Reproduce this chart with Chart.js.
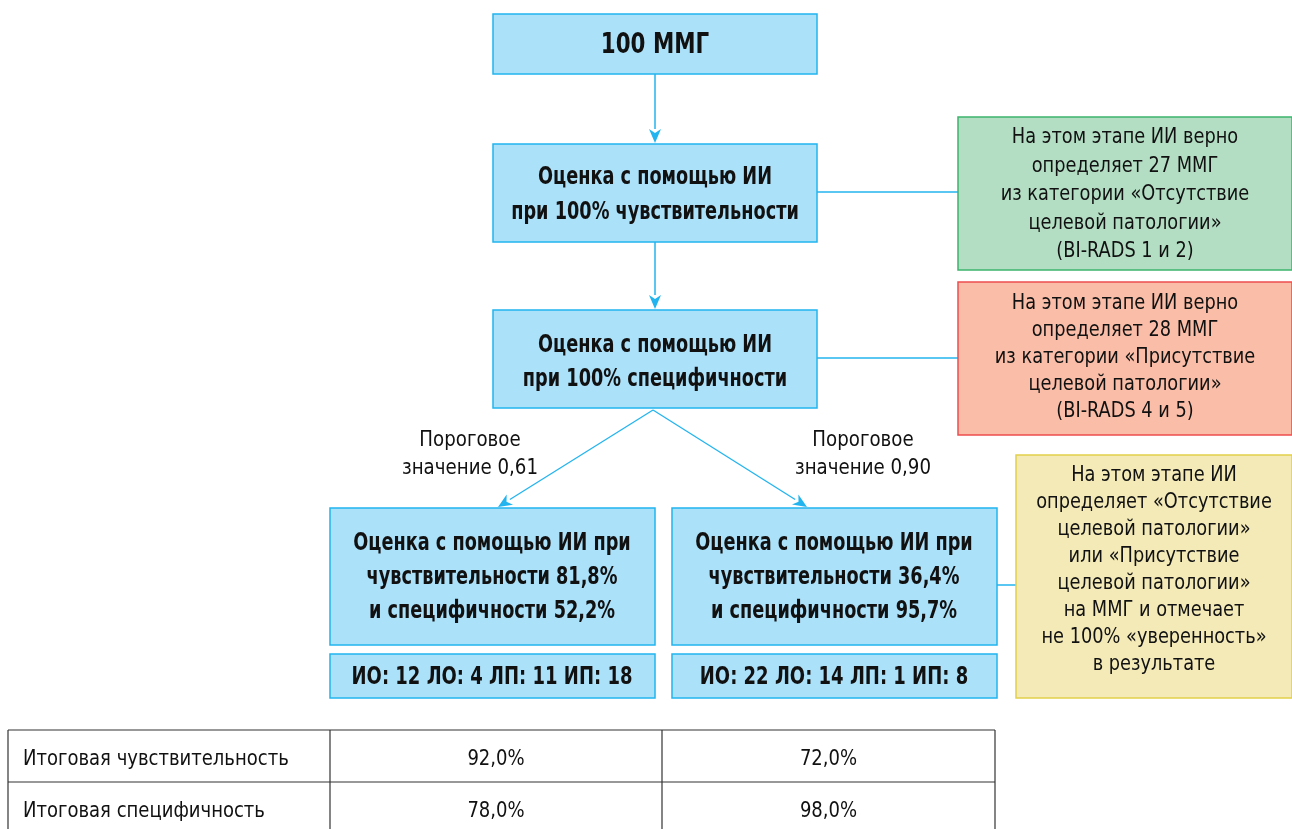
<!DOCTYPE html>
<html>
<head>
<meta charset="utf-8">
<script src="https://cdn.jsdelivr.net/npm/chart.js@4"></script>
<style>
  html, body { margin: 0; padding: 0; background: #fff; }
  #wrap { width: 1292px; height: 829px; position: relative; }
</style>
</head>
<body>
<div id="wrap"><canvas id="chart"></canvas></div>
<script>
// data
const totalMMG = 100;
const correctNegative = 27;
const correctPositive = 28;
const thresholds = ["0,61", "0,90"];
const branchSens = ["81,8%", "36,4%"];
const branchSpec = ["52,2%", "95,7%"];
const io = [12, 22];
const lo = [4, 14];
const lp = [11, 1];
const ip = [18, 8];
const finalLabels = ["Итоговая чувствительность", "Итоговая специфичность"];
const finalSens = ["92,0%", "72,0%"];
const finalSpec = ["78,0%", "98,0%"];

const FONT = "'DejaVu Sans Condensed', 'DejaVu Sans', sans-serif";
const BLUE_FILL = "#ace1fa";
const BLUE_LINE = "#22b4ee";

// layout of the boxes (x1, y1, x2, y2 in scale units)
const layout = {
  top: [493, 14, 817, 74],
  sens: [493, 144, 817, 242],
  spec: [493, 310, 817, 408],
  left: [330, 508, 655, 645],
  right: [672, 508, 997, 645],
  leftInfo: [330, 654, 655, 698],
  rightInfo: [672, 654, 997, 698],
  green: [958, 117, 1292, 270],
  red: [958, 282, 1292, 435],
  yellow: [1016, 455, 1292, 698]
};

const flowPlugin = {
  id: "flow",
  afterDraw(chart) {
    const ctx = chart.ctx;
    const sx = chart.scales.x, sy = chart.scales.y;
    const px = v => sx.getPixelForValue(v);
    const py = v => sy.getPixelForValue(v);

    // text squeezed horizontally to mimic the narrow font of the original
    function text(t, x, y, squeeze) {
      const w = ctx.measureText(t).width;
      ctx.fillText(t, x, y, w * squeeze);
    }
    function box(r, fill, stroke) {
      const x1 = px(r[0]), y1 = py(r[1]), x2 = px(r[2]), y2 = py(r[3]);
      ctx.fillStyle = fill;
      ctx.fillRect(x1, y1, x2 - x1, y2 - y1);
      ctx.strokeStyle = stroke;
      ctx.lineWidth = 1.5;
      ctx.strokeRect(x1, y1, x2 - x1, y2 - y1);
    }
    function lines(textLines, cx, yStart, step, font, squeeze) {
      ctx.font = font;
      ctx.fillStyle = "#111";
      ctx.textAlign = "center";
      ctx.textBaseline = "middle";
      textLines.forEach((t, i) => text(t, px(cx), py(yStart + i * step), squeeze));
    }
    function line(x1, y1, x2, y2, w) {
      ctx.strokeStyle = BLUE_LINE;
      ctx.lineWidth = w || 1.5;
      ctx.beginPath();
      ctx.moveTo(px(x1), py(y1));
      ctx.lineTo(px(x2), py(y2));
      ctx.stroke();
    }
    function arrow(x1, y1, x2, y2, w) {
      const a = Math.atan2(py(y2) - py(y1), px(x2) - px(x1));
      const len = 14, half = 6;
      const bx = px(x2) - len * Math.cos(a), by = py(y2) - len * Math.sin(a);
      ctx.strokeStyle = BLUE_LINE;
      ctx.lineWidth = w || 1.5;
      ctx.beginPath();
      ctx.moveTo(px(x1), py(y1));
      ctx.lineTo(bx, by);
      ctx.stroke();
      ctx.fillStyle = BLUE_LINE;
      ctx.beginPath();
      ctx.moveTo(px(x2), py(y2));
      ctx.lineTo(bx - half * Math.sin(a), by + half * Math.cos(a));
      ctx.lineTo(bx + 4 * Math.cos(a), by + 4 * Math.sin(a));
      ctx.lineTo(bx + half * Math.sin(a), by - half * Math.cos(a));
      ctx.closePath();
      ctx.fill();
    }

    ctx.save();
    const bold = "bold 24px " + FONT;
    const reg = "21px " + FONT;

    // connectors
    arrow(655, 74, 655, 143);
    arrow(655, 242, 655, 309);
    line(817, 192, 958, 192);
    line(817, 358, 958, 358);
    line(997, 585, 1016, 585);
    arrow(653, 410, 498, 507, 1.3);
    arrow(653, 410, 807, 507, 1.3);

    // boxes
    box(layout.top, BLUE_FILL, BLUE_LINE);
    box(layout.sens, BLUE_FILL, BLUE_LINE);
    box(layout.spec, BLUE_FILL, BLUE_LINE);
    box(layout.left, BLUE_FILL, BLUE_LINE);
    box(layout.right, BLUE_FILL, BLUE_LINE);
    box(layout.leftInfo, BLUE_FILL, BLUE_LINE);
    box(layout.rightInfo, BLUE_FILL, BLUE_LINE);
    box(layout.green, "#b4dec4", "#3cb46c");
    box(layout.red, "#f9bda8", "#ee4d4d");
    box(layout.yellow, "#f3eab8", "#e2cf4a");

    lines([totalMMG + " ММГ"], 655, 45, 0, "bold 29px " + FONT, 0.82);
    lines(["Оценка с помощью ИИ", "при 100% чувствительности"], 655, 178, 35, bold, 0.82);
    lines(["Оценка с помощью ИИ", "при 100% специфичности"], 655, 346, 34, bold, 0.82);

    const cxs = [492, 834];
    [0, 1].forEach(i => {
      lines(["Оценка с помощью ИИ при", "чувствительности " + branchSens[i],
             "и специфичности " + branchSpec[i]], cxs[i], 544, 34, bold, 0.82);
      lines(["ИО: " + io[i] + " ЛО: " + lo[i] + " ЛП: " + lp[i] + " ИП: " + ip[i]],
            cxs[i], 677, 0, "bold 25px " + FONT, 0.8);
    });
    lines(["Пороговое", "значение " + thresholds[0]], 470, 440, 28, "22px " + FONT, 0.92);
    lines(["Пороговое", "значение " + thresholds[1]], 863, 440, 28, "22px " + FONT, 0.92);

    lines(["На этом этапе ИИ верно", "определяет " + correctNegative + " ММГ",
           "из категории «Отсутствие", "целевой патологии»", "(BI-RADS 1 и 2)"],
          1125, 138, 28.5, reg, 0.94);
    lines(["На этом этапе ИИ верно", "определяет " + correctPositive + " ММГ",
           "из категории «Присутствие", "целевой патологии»", "(BI-RADS 4 и 5)"],
          1125, 304, 27, reg, 0.94);
    lines(["На этом этапе ИИ", "определяет «Отсутствие", "целевой патологии»",
           "или «Присутствие", "целевой патологии»", "на ММГ и отмечает",
           "не 100% «уверенность»", "в результате"], 1154, 476, 27, reg, 0.94);

    // final table
    const tx = [8, 330, 662, 995];
    const ty = [730, 782, 834];
    ctx.strokeStyle = "#333";
    ctx.lineWidth = 1.2;
    ty.forEach(y => { ctx.beginPath(); ctx.moveTo(px(tx[0]), py(y)); ctx.lineTo(px(tx[3]), py(y)); ctx.stroke(); });
    tx.forEach(x => { ctx.beginPath(); ctx.moveTo(px(x), py(ty[0])); ctx.lineTo(px(x), py(ty[2])); ctx.stroke(); });
    const rows = [[finalLabels[0], finalSens[0], finalSens[1]], [finalLabels[1], finalSpec[0], finalSpec[1]]];
    ctx.font = "22px " + FONT;
    ctx.fillStyle = "#111";
    ctx.textBaseline = "middle";
    rows.forEach((r, i) => {
      const y = py((ty[i] + ty[i + 1]) / 2 + 3);
      ctx.textAlign = "left";
      text(r[0], px(23), y, 0.91);
      ctx.textAlign = "center";
      text(r[1], px((tx[1] + tx[2]) / 2), y, 0.91);
      text(r[2], px((tx[2] + tx[3]) / 2), y, 0.91);
    });
    ctx.restore();
  }
};

new Chart(document.getElementById("chart").getContext("2d"), {
  type: "scatter",
  data: { datasets: [{ data: [], pointRadius: 0 }] },
  options: {
    responsive: true,
    maintainAspectRatio: false,
    animation: false,
    layout: { padding: 0 },
    plugins: { legend: { display: false }, tooltip: { enabled: false } },
    scales: {
      x: { type: "linear", min: 0, max: 1292, display: false },
      y: { type: "linear", min: 0, max: 829, reverse: true, display: false }
    }
  },
  plugins: [flowPlugin]
});
</script>
</body>
</html>
